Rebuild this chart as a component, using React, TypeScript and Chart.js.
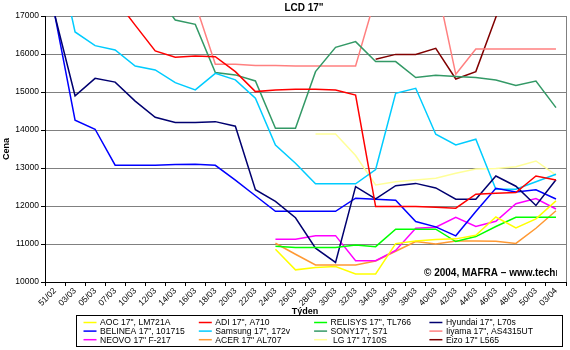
import React, { useEffect, useRef } from "react";
import { Chart, registerables } from "chart.js";

Chart.register(...registerables);

const FONT = '"Liberation Sans", Arial, sans-serif';

const TITLE = 'LCD 17"';
const X_TITLE = "Týden";
const Y_TITLE = "Cena";
const COPYRIGHT = "© 2004, MAFRA – www.technet.cz";

const weeks = [
  "51/02", "03/03", "05/03", "07/03", "10/03", "12/03", "14/03", "16/03", "18/03",
  "20/03", "22/03", "24/03", "26/03", "28/03", "30/03", "32/03", "34/03", "36/03",
  "38/03", "40/03", "42/03", "44/03", "46/03", "48/03", "50/03", "03/04",
];

const yMin = 10000;
const yMax = 17000;
const yStep = 1000;

const _ = null;

const aoc = [_, _, _, _, _, _, _, _, _, _, _, 10862, 10320, 10380, 10405, 10210, 10210, 11010, 11080, 11120, 11135, 11230, 11710, 11425, 11660, 12135];
const adi = [_, _, _, 17450, 16760, 16080, 15915, 15948, 15930, 15536, 15010, 15054, 15070, 15070, 15054, 14920, 11985, 11985, 11985, 11968, 11942, 12310, 12336, 12353, 12790, 12687];
const relisys = [_, _, _, _, _, _, _, _, _, _, _, 10940, 10910, 10910, 10910, 10975, 10930, 11390, 11390, 11390, 11065, 11195, 11460, 11705, 11705, 11705];
const hyundai = [17000, 14900, 15360, 15260, 14760, 14335, 14200, 14200, 14220, 14100, 12430, 12120, 11690, 10890, 10515, 12510, 12190, 12535, 12595, 12475, 12180, 12180, 12790, 12520, 12015, 12690];
const belinea = [17000, 14260, 14020, 13075, 13075, 13075, 13090, 13100, 13070, 12680, 12270, 11860, 11860, 11860, 11860, 12205, 12175, 12150, 11590, 11450, 11215, 11853, 12468, 12370, 12425, 12185];
const samsung = [19000, 16580, 16220, 16105, 15685, 15580, 15245, 15055, 15490, 15320, 14835, 13605, 13125, 12585, 12585, 12585, 12960, 14966, 15098, 13888, 13607, 13757, 12440, 12440, 12640, 12836];
const sony = [_, _, _, _, _, 17600, 16895, 16780, 15510, 15450, 15290, 14045, 14045, 15536, 16176, 16325, 15800, 15800, 15380, 15440, 15405, 15380, 15317, 15170, 15290, 14590];
const iiyama = [_, _, _, _, _, _, _, 17330, 15730, 15730, 15700, 15700, 15685, 15685, 15685, 15685, 17500, 17800, 18000, 17950, 15466, 16130, 16130, 16130, 16130, 16130];
const neovo = [_, _, _, _, _, _, _, _, _, _, _, 11128, 11128, 11220, 11220, 10560, 10560, 10830, 11415, 11440, 11700, 11460, 11600, 12060, 12195, 11920];
const acer = [_, _, _, _, _, _, _, _, _, _, _, 11020, 10730, 10450, 10450, 10450, 10555, 10810, 11065, 11000, 11080, 11080, 11070, 11015, 11415, 11875];
const lg = [_, _, _, _, _, _, _, _, _, _, _, _, _, 13895, 13895, 13330, 12555, 12640, 12687, 12730, 12860, 12975, 12990, 13035, 13185, 12815];
const eizo = [_, _, _, _, _, _, _, _, _, _, _, _, _, _, _, _, 15860, 15990, 15990, 16150, 15343, 15536, 16965, 18400, 18400, 18400];

const seriesNames = [
  'AOC 17", LM721A', 'ADI 17", A710', 'RELISYS 17", TL766', 'Hyundai 17", L70s',
  'BELINEA 17", 101715', 'Samsung 17", 172v', 'SONY17", S71', 'Iiyama 17", AS4315UT',
  'NEOVO 17" F-217', 'ACER 17" AL707', ' LG 17" 1710S', 'Eizo 17" L565',
];
const seriesValues = [aoc, adi, relisys, hyundai, belinea, samsung, sony, iiyama, neovo, acer, lg, eizo];
const seriesColors = [
  "#FFFF00", "#FF0000", "#00FF00", "#000070",
  "#0000FF", "#00CCFF", "#339966", "#FF8080",
  "#FF00FF", "#FF9933", "#FFFF99", "#800000",
];

const decorPlugin = {
  id: "decor",
  afterDraw(chart: any) {
    const { ctx, chartArea: a } = chart;
    ctx.save();
    // right border of plot
    ctx.strokeStyle = "#808080";
    ctx.lineWidth = 1;
    ctx.beginPath();
    const rx = Math.round(a.right) + 0.5;
    ctx.moveTo(rx, a.top);
    ctx.lineTo(rx, a.bottom);
    ctx.stroke();

    ctx.fillStyle = "#000";
    ctx.textAlign = "center";
    ctx.textBaseline = "middle";
    ctx.font = `bold 10px ${FONT}`;
    ctx.fillText(TITLE, 304, 8.5);
    ctx.font = `bold 9px ${FONT}`;
    ctx.fillText(X_TITLE, 305, 312);
    ctx.save();
    ctx.translate(7, (a.top + a.bottom) / 2);
    ctx.rotate(-Math.PI / 2);
    ctx.fillText(Y_TITLE, 0, 0);
    ctx.restore();

    // copyright
    ctx.save();
    ctx.beginPath();
    ctx.rect(a.left, a.top, 557 - a.left, a.bottom - a.top);
    ctx.clip();
    ctx.textAlign = "left";
    ctx.font = `bold 10px ${FONT}`;
    ctx.fillText(COPYRIGHT, 424, 273);
    ctx.restore();

    // legend
    const bx = 76.5, by = 315.5, bw = 486, bh = 31;
    ctx.fillStyle = "#fff";
    ctx.fillRect(bx, by, bw, bh);
    ctx.strokeStyle = "#000";
    ctx.lineWidth = 1;
    ctx.strokeRect(bx, by, bw, bh);
    ctx.font = `8.6px ${FONT}`;
    ctx.textAlign = "left";
    ctx.textBaseline = "middle";
    chart.data.datasets.forEach((ds: any, i: number) => {
      const col = i % 4;
      const row = Math.floor(i / 4);
      const x = 83.5 + col * 115.3;
      const y = 322.5 + row * 8.6;
      ctx.strokeStyle = ds.borderColor;
      ctx.lineWidth = 1.5;
      ctx.beginPath();
      ctx.moveTo(x, y);
      ctx.lineTo(x + 13, y);
      ctx.stroke();
      ctx.fillStyle = "#000";
      ctx.fillText(ds.label, x + 16.5, y + 0.5);
    });
    ctx.restore();
  },
};

export default function App() {
  const ref = useRef<HTMLCanvasElement>(null);
  useEffect(() => {
    if (!ref.current) return;
    const chart = new Chart(ref.current, {
      type: "line",
      data: {
        labels: weeks,
        datasets: seriesNames.map((name, i) => ({
          label: name,
          data: seriesValues[i],
          borderColor: seriesColors[i],
          backgroundColor: seriesColors[i],
          borderWidth: 1.5,
          pointRadius: 0,
          tension: 0,
          fill: false,
          spanGaps: false,
        })),
      },
      options: {
        responsive: false,
        animation: false,
        devicePixelRatio: 1,
        layout: { padding: { top: 16, right: 4, left: 0, bottom: 0 } },
        plugins: {
          legend: { display: false },
          title: { display: false },
          tooltip: { enabled: false },
        },
        scales: {
          x: {
            type: "category",
            offset: true,
            grid: {
              offset: true,
              drawOnChartArea: false,
              drawTicks: true,
              tickLength: 4,
              tickColor: "#000",
            },
            border: { color: "#000" },
            ticks: {
              autoSkip: false,
              minRotation: 45,
              maxRotation: 45,
              padding: 0,
              color: "#000",
              font: { size: 8.5, family: FONT },
            },
            afterFit: (s: any) => {
              s.height = 68;
            },
          },
          y: {
            min: yMin,
            max: yMax,
            grid: { color: "#808080", tickLength: 4, tickColor: "#000" },
            border: { color: "#000" },
            ticks: {
              stepSize: yStep,
              padding: 2,
              color: "#000",
              font: { size: 8.5, family: FONT },
              callback: (v: any) => String(v),
            },
            afterFit: (s: any) => {
              s.width = 45;
            },
          },
        },
      },
      plugins: [decorPlugin],
    });
    return () => chart.destroy();
  }, []);
  return (
    <div style={{ position: "absolute", left: 0, top: 0, width: 570, height: 350, background: "#fff" }}>
      <canvas ref={ref} width={570} height={350} style={{ display: "block" }} />
    </div>
  );
}
